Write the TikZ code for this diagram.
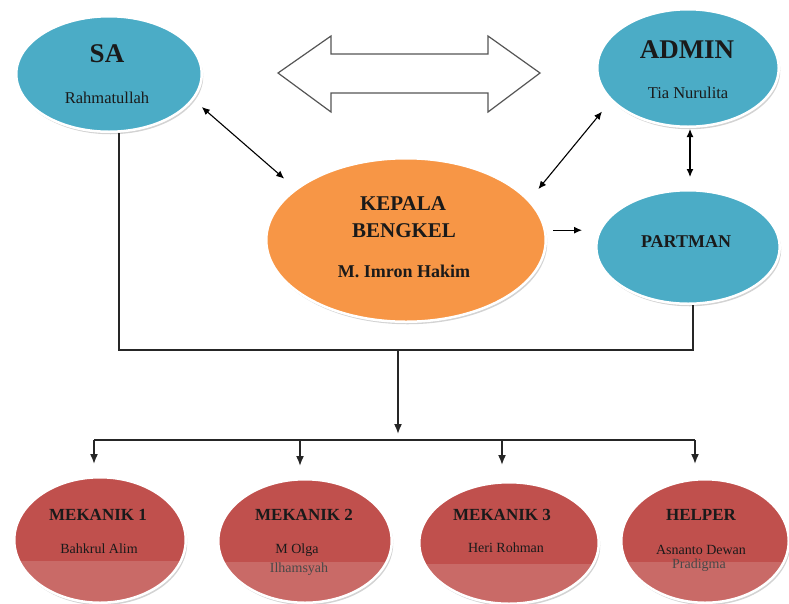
\documentclass[tikz,border=0pt]{standalone}
\usepackage{fontspec}
\setmainfont{Liberation Serif}
\usetikzlibrary{shadows,arrows.meta,calc,shapes.geometric}
\definecolor{cblue}{HTML}{4BACC6}
\definecolor{corange}{HTML}{F79646}
\definecolor{cred}{HTML}{C0504D}
\definecolor{ctext}{HTML}{1A1A1A}
\definecolor{cgray}{HTML}{555555}
\begin{document}
\begin{tikzpicture}[x=1pt,y=-1pt,
  oval/.style={ellipse, draw=white, line width=2.5pt, inner sep=0pt,
    drop shadow={shadow xshift=1.5pt, shadow yshift=-2.5pt, opacity=.35}},
  blueoval/.style={oval, fill=cblue},
  orangeoval/.style={oval, fill=corange},
  redoval/.style={oval, fill=cred,
    path picture={\fill[white,opacity=.15] ([yshift=-21pt]path picture bounding box.west) rectangle ([xshift=5pt,yshift=-5pt]path picture bounding box.south east);}},
  txtbase/.style={anchor=base, inner sep=0pt, text=ctext},
  tbig/.style={txtbase, font=\fontsize{27}{27}\selectfont\bfseries},
  thead/.style={txtbase, font=\fontsize{21}{21}\selectfont\bfseries},
  tmid/.style={txtbase, font=\fontsize{18}{18}\selectfont\bfseries},
  tlow/.style={txtbase, font=\fontsize{17}{17}\selectfont\bfseries},
  tname/.style={txtbase, font=\fontsize{16.5}{16.5}\selectfont},
  tsmall/.style={txtbase, font=\fontsize{14}{14}\selectfont},
  arrtip/.tip={Latex[length=8pt,width=7pt]},
  bustip/.tip={Latex[length=10pt,width=8pt]},
  conn/.style={line width=1.1pt, draw=black},
  busline/.style={line width=1.6pt, draw=black!85}
]
\useasboundingbox (0,0) rectangle (789,603);

% big outlined double arrow
\draw[line width=1.2pt, draw=cgray, fill=white, line join=miter]
  (278,73) -- (331,36) -- (331,54) -- (488,54) -- (488,36) -- (540,73)
  -- (488,112) -- (488,93) -- (331,93) -- (331,112) -- cycle;

% ellipses
\node[blueoval, minimum width=185.5pt, minimum height=115.5pt] (sa) at (109,74) {};
\node[blueoval, minimum width=181.5pt, minimum height=117.5pt] (admin) at (688,68) {};
\node[blueoval, minimum width=183.5pt, minimum height=113.5pt] (partman) at (688,247) {};
\node[orangeoval, minimum width=279.5pt, minimum height=163.5pt] (kb) at (406,240) {};
\node[redoval, minimum width=171.5pt, minimum height=125.5pt] (m1) at (100,540) {};
\node[redoval, minimum width=173.5pt, minimum height=123.5pt] (m2) at (305,541) {};
\node[redoval, minimum width=179.5pt, minimum height=121.5pt] (m3) at (509,543) {};
\node[redoval, minimum width=167.5pt, minimum height=123.5pt] (hp) at (705,541) {};

% texts
\node[tbig] (saT) at (107,62) {SA};
\node[tname] (saN) at (107,103) {Rahmatullah};
\node[tbig] (adT) at (687,58) {ADMIN};
\node[tname] (adN) at (688,98) {Tia Nurulita};
\node[tmid] (pmT) at (686,247) {PARTMAN};
\node[thead] (kbT1) at (403,210) {KEPALA};
\node[thead] (kbT2) at (404,237) {BENGKEL};
\node[tmid] (kbN) at (404,277) {M. Imron Hakim};
\node[tlow] (m1T) at (98,520) {MEKANIK 1};
\node[tsmall] (m1N) at (99,553) {Bahkrul Alim};
\node[tlow] (m2T) at (304,520) {MEKANIK 2};
\node[tsmall] (m2N) at (297,553) {M Olga};
\node[tsmall, text=ctext!80] (m2N2) at (299,572) {Ilhamsyah};
\node[tlow] (m3T) at (502,520) {MEKANIK 3};
\node[tsmall] (m3N) at (506,552) {Heri Rohman};
\node[tlow] (hpT) at (701,520) {HELPER};
\node[tsmall] (hpN) at (701,554) {Asnanto Dewan};
\node[tsmall, text=ctext!80] (hpN2) at (699,568) {Pradigma};

% connectors between top nodes
\draw[conn, arrtip-arrtip, shorten <=11pt, shorten >=15pt] (sa.-17) -- (kb.155);
\draw[conn, arrtip-arrtip, shorten <=14pt, shorten >=14pt] (admin.203) -- (kb.18);
\draw[conn, arrtip-arrtip, shorten <=1pt, shorten >=12pt] ([xshift=2pt]admin.south) -- ([xshift=2pt]partman.north);
\coordinate (kbR) at (kb.4);
\draw[conn, -arrtip, shorten <=7pt, shorten >=13pt] (kbR) -- (kbR -| partman.west);

% bus
\coordinate (bus) at (398,350);
\coordinate (dist) at (398,440);
\draw[busline, line join=miter] ([xshift=10pt]sa.south) |- (bus) -| ([xshift=5pt]partman.south);
\draw[busline, -bustip] (bus) -- ([yshift=6pt]dist);
\coordinate (t1) at ([xshift=-6pt]m1.north);
\coordinate (t2) at ([xshift=-5pt]m2.north);
\coordinate (t3) at ([xshift=-7pt]m3.north);
\coordinate (t4) at ([xshift=-10pt]hp.north);
\draw[busline, line join=miter] (t1 |- dist) -- (t4 |- dist);
\draw[busline, -bustip, shorten >=12pt] (t1 |- dist) -- (t1);
\draw[busline, -bustip, shorten >=12pt] (t2 |- dist) -- (t2);
\draw[busline, -bustip, shorten >=16pt] (t3 |- dist) -- (t3);
\draw[busline, -bustip, shorten >=14pt] (t4 |- dist) -- (t4);
\end{tikzpicture}
\end{document}
